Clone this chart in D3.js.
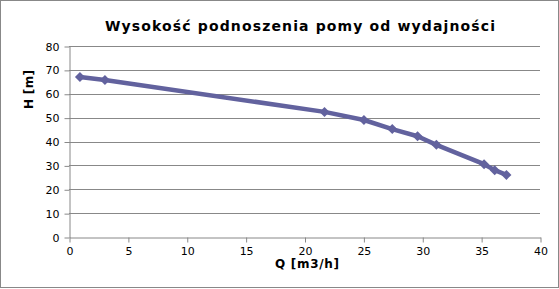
<!DOCTYPE html>
<html><head><meta charset="utf-8">
<script src="https://cdn.jsdelivr.net/npm/d3@7"></script>
<style>body{margin:0;background:#fff}svg{display:block}text{font-family:"DejaVu Sans",sans-serif}</style>
</head><body><svg id="c" width="559" height="289"></svg>
<script>
const title = "Wysokość podnoszenia pomy od wydajności";
const xLabel = "Q [m3/h]";
const yLabel = "H [m]";
const qValues = [0.93, 3.05, 21.7, 25.05, 27.45, 29.6, 31.2, 35.25, 36.15, 37.15];
const hValues = [67.0, 65.8, 52.4, 49.0, 45.2, 42.2, 38.6, 30.5, 28.0, 26.0];
const xTicks = [0, 5, 10, 15, 20, 25, 30, 35, 40];
const yTicks = [0, 10, 20, 30, 40, 50, 60, 70, 80];

const svg = d3.select("#c");
const L = 69, R = 540, T = 46, B = 237;
const x = d3.scaleLinear().domain([0, 40]).range([L, R]);
const y = d3.scaleLinear().domain([0, 80]).range([B, T]);
const grey = "#888";

svg.append("rect").attr("x", 0.5).attr("y", 0.5).attr("width", 558).attr("height", 287)
  .attr("fill", "#fff").attr("stroke", grey);

// gridlines
svg.append("g").selectAll("line").data(yTicks.filter(d => d > 0)).join("line")
  .attr("x1", L).attr("x2", R).attr("y1", d => Math.round(y(d)) + 0.5).attr("y2", d => Math.round(y(d)) + 0.5)
  .attr("stroke", grey).attr("stroke-width", 1);

const yAxis = svg.append("g").attr("transform", `translate(${L + 0.5},0.5)`)
  .call(d3.axisLeft(y).tickValues(yTicks).tickSize(5).tickPadding(5).tickSizeOuter(0));
const xAxis = svg.append("g").attr("transform", `translate(0.5,${B + 0.5})`)
  .call(d3.axisBottom(x).tickValues(xTicks).tickSize(5).tickPadding(5).tickSizeOuter(0));
[yAxis, xAxis].forEach(a => {
  a.select(".domain").attr("stroke", grey);
  a.selectAll(".tick line").attr("stroke", grey);
  a.selectAll(".tick text").attr("font-size", 11).attr("fill", "#000").attr("font-family", "DejaVu Sans");
});

const data = qValues.map((q, i) => ({q, h: hValues[i]}));
const col = "#62629e";
svg.append("path").datum(data)
  .attr("d", d3.line().x(d => x(d.q)).y(d => y(d.h)))
  .attr("fill", "none").attr("stroke", col).attr("stroke-width", 4.5).attr("stroke-linejoin", "round");
svg.append("g").selectAll("path").data(data).join("path")
  .attr("transform", d => `translate(${x(d.q)},${y(d.h)})`)
  .attr("d", "M0,-5L5,0L0,5L-5,0Z").attr("fill", col);

svg.append("text").attr("x", 105).attr("y", 30.5)
  .attr("font-size", 14).attr("font-weight", "bold").attr("fill", "#000")
  .attr("textLength", 390).attr("lengthAdjust", "spacing").text(title);
svg.append("text").attr("x", 275).attr("y", 268)
  .attr("font-size", 12).attr("font-weight", "bold").attr("fill", "#000")
  .attr("textLength", 64).attr("lengthAdjust", "spacing").text(xLabel);
svg.append("text").attr("transform", "translate(33,109) rotate(-90)")
  .attr("font-size", 12).attr("font-weight", "bold").attr("fill", "#000")
  .attr("textLength", 39).attr("lengthAdjust", "spacing").text(yLabel);
</script></body></html>
